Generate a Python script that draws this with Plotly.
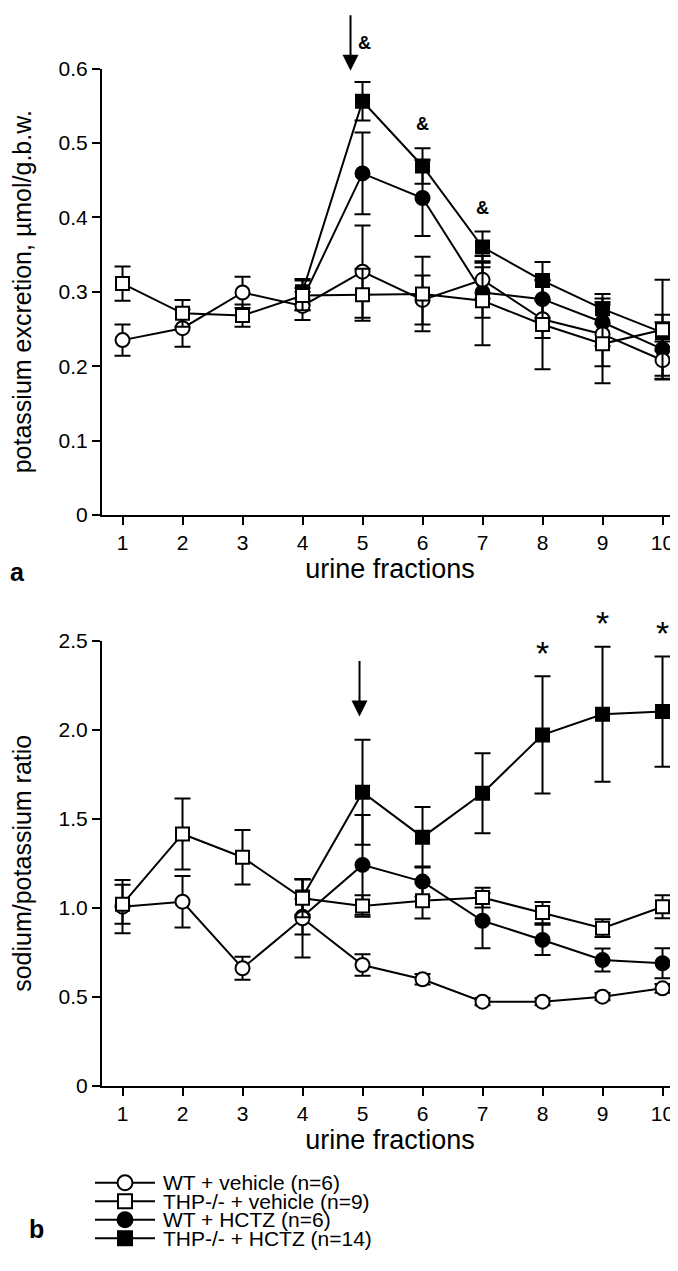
import plotly.graph_objects as go

fractions = [1, 2, 3, 4, 5, 6, 7, 8, 9, 10]
hctz_fractions = [4, 5, 6, 7, 8, 9, 10]

# Panel a: potassium excretion (umol/g.b.w.)
k_wt_veh = [0.235, 0.251, 0.299, 0.281, 0.327, 0.289, 0.316, 0.263, 0.243, 0.208]
k_wt_veh_sem = [0.021, 0.025, 0.021, 0.019, 0.062, 0.033, 0.025, 0.025, 0.043, 0.025]
k_thp_veh = [0.311, 0.271, 0.268, 0.295, 0.296, 0.297, 0.288, 0.256, 0.230, 0.249]
k_thp_veh_sem = [0.023, 0.018, 0.015, 0.020, 0.035, 0.050, 0.060, 0.060, 0.053, 0.067]
k_wt_hctz = [0.290, 0.459, 0.426, 0.299, 0.290, 0.259, 0.223]
k_wt_hctz_sem = [0.015, 0.055, 0.051, 0.034, 0.025, 0.032, 0.036]
k_thp_hctz = [0.300, 0.556, 0.469, 0.360, 0.315, 0.277, 0.245]
k_thp_hctz_sem = [0.017, 0.026, 0.024, 0.021, 0.025, 0.020, 0.024]

# Panel b: sodium/potassium ratio
r_wt_veh = [1.006, 1.034, 0.660, 0.941, 0.678, 0.598, 0.472, 0.472, 0.500, 0.547]
r_wt_veh_sem = [0.15, 0.145, 0.065, 0.22, 0.06, 0.03, 0.02, 0.02, 0.02, 0.025]
r_thp_veh = [1.020, 1.415, 1.284, 1.053, 1.010, 1.040, 1.057, 0.973, 0.885, 1.006]
r_thp_veh_sem = [0.11, 0.20, 0.153, 0.107, 0.06, 0.10, 0.055, 0.06, 0.05, 0.065]
r_wt_hctz = [0.95, 1.241, 1.147, 0.927, 0.819, 0.706, 0.688]
r_wt_hctz_sem = [0.10, 0.28, 0.085, 0.155, 0.085, 0.065, 0.085]
r_thp_hctz = [1.06, 1.650, 1.397, 1.644, 1.972, 2.088, 2.103]
r_thp_hctz_sem = [0.10, 0.295, 0.17, 0.225, 0.33, 0.38, 0.31]

group_names = ["WT + vehicle (n=6)", "THP-/- + vehicle (n=9)", "WT + HCTZ (n=6)", "THP-/- + HCTZ (n=14)"]

k_ticks = [0, 0.1, 0.2, 0.3, 0.4, 0.5, 0.6]
k_ticktext = ["0", "0.1", "0.2", "0.3", "0.4", "0.5", "0.6"]
r_ticks = [0, 0.5, 1.0, 1.5, 2.0, 2.5]
r_ticktext = ["0", "0.5", "1.0", "1.5", "2.0", "2.5"]

# significance marks: (fraction, value level)
amp_points = [(5.04, 0.634), (6, 0.525), (7, 0.413)]
star_points = [(8, 2.43), (9, 2.60), (10, 2.543)]
K_MAX, R_MAX = 0.6, 2.5

FONT = "Arial, Liberation Sans, sans-serif"
OFF = 8                      # default page body margin
FW, FH = 678 - OFF, 1271 - 2 * OFF


def fx(px):
    return (px - OFF) / FW


def fy(py):
    return 1 - (py - OFF) / FH


styles = [
    dict(symbol="circle", color="white", size=14),
    dict(symbol="square", color="white", size=13),
    dict(symbol="circle", color="black", size=14),
    dict(symbol="square", color="black", size=13),
]

fig = go.Figure()


def add(xs, ys, es, idx, xa, ya):
    st = styles[idx]
    fig.add_trace(go.Scatter(
        x=xs, y=ys, mode="lines+markers", name=group_names[idx],
        xaxis=xa, yaxis=ya, showlegend=False,
        line=dict(color="black", width=2),
        marker=dict(symbol=st["symbol"], size=st["size"], color=st["color"],
                    line=dict(color="black", width=2)),
        error_y=dict(type="data", array=es, visible=True, color="black", thickness=2, width=8),
        cliponaxis=False,
    ))


add(hctz_fractions, k_wt_hctz, k_wt_hctz_sem, 2, "x", "y")
add(hctz_fractions, k_thp_hctz, k_thp_hctz_sem, 3, "x", "y")
add(fractions, k_wt_veh, k_wt_veh_sem, 0, "x", "y")
add(fractions, k_thp_veh, k_thp_veh_sem, 1, "x", "y")

add(hctz_fractions, r_wt_hctz, r_wt_hctz_sem, 2, "x2", "y2")
add(hctz_fractions, r_thp_hctz, r_thp_hctz_sem, 3, "x2", "y2")
add(fractions, r_wt_veh, r_wt_veh_sem, 0, "x2", "y2")
add(fractions, r_thp_veh, r_thp_veh_sem, 1, "x2", "y2")

# legend (drawn on its own small axis, one row per group)
for i, name in enumerate(group_names):
    st = styles[i]
    fig.add_trace(go.Scatter(
        x=[0, 1], y=[i, i], mode="lines", xaxis="x3", yaxis="y3", showlegend=False,
        line=dict(color="black", width=2), hoverinfo="skip"))
    fig.add_trace(go.Scatter(
        x=[0.5], y=[i], mode="markers", xaxis="x3", yaxis="y3", showlegend=False,
        marker=dict(symbol=st["symbol"], size=st["size"] + 1, color=st["color"],
                    line=dict(color="black", width=2)), hoverinfo="skip"))
    fig.add_annotation(x=1, y=i, xref="x3", yref="y3", text=name, showarrow=False,
                       xanchor="left", yanchor="middle", xshift=6,
                       font=dict(family=FONT, size=21, color="black"))

xr = [0.658, 10.258]
axis_common = dict(showline=True, linecolor="black", linewidth=2, ticks="outside",
                   ticklen=8, tickwidth=2, tickcolor="black", showgrid=False,
                   zeroline=False, tickfont=dict(family=FONT, size=21, color="black"),
                   automargin=False)
hidden = dict(visible=False, showgrid=False, zeroline=False, fixedrange=True)

fig.update_layout(
    width=FW, height=FH,
    margin=dict(l=0, r=0, t=0, b=0),
    paper_bgcolor="white", plot_bgcolor="rgba(0,0,0,0)",
    font=dict(family=FONT, color="black"),
    showlegend=False,
    xaxis=dict(domain=[fx(102), 1.0], range=xr, anchor="y", tickvals=fractions,
               title=dict(text="urine fractions", font=dict(size=27), standoff=2), **axis_common),
    yaxis=dict(domain=[fy(515), fy(68.5)], range=[0, K_MAX], anchor="x", tickvals=k_ticks,
               ticktext=k_ticktext,
               title=dict(text="potassium excretion, µmol/g.b.w.", font=dict(size=25), standoff=20),
               **axis_common),
    xaxis2=dict(domain=[fx(102), 1.0], range=xr, anchor="y2", tickvals=fractions,
                title=dict(text="urine fractions", font=dict(size=27), standoff=2), **axis_common),
    yaxis2=dict(domain=[fy(1085.6), fy(641)], range=[0, R_MAX], anchor="x2", tickvals=r_ticks,
                ticktext=r_ticktext,
                title=dict(text="sodium/potassium ratio", font=dict(size=25), standoff=20),
                **axis_common),
    xaxis3=dict(domain=[fx(95), fx(155)], range=[0, 1], anchor="y3", **hidden),
    yaxis3=dict(domain=[fy(1256.9), fy(1164.2)], range=[4, -1], anchor="x3", **hidden),
)

# arrows marking treatment
fig.add_annotation(x=4.8, y=0.597, xref="x", yref="y", ax=0, ay=-57, text="",
                   showarrow=True, arrowhead=2, arrowsize=1.6, arrowwidth=2, arrowcolor="black")
fig.add_annotation(x=4.95, y=2.075, xref="x2", yref="y2", ax=0, ay=-57, text="",
                   showarrow=True, arrowhead=2, arrowsize=1.6, arrowwidth=2, arrowcolor="black")

for (px_, py_) in amp_points:
    fig.add_annotation(x=px_, y=py_ / K_MAX, xref="x", yref="y domain", text="<b>&</b>",
                       showarrow=False, xanchor="center", yanchor="middle",
                       font=dict(family=FONT, size=18, color="black"))
for (sx, sy) in star_points:
    fig.add_annotation(x=sx, y=sy / R_MAX, xref="x2", yref="y2 domain", text="*",
                       showarrow=False, xanchor="center", yanchor="middle",
                       font=dict(family=FONT, size=34, color="black"))

# panel letters
fig.add_annotation(x=fx(17), y=fy(572), xref="paper", yref="paper", text="<b>a</b>",
                   showarrow=False, xanchor="center", yanchor="middle",
                   font=dict(family=FONT, size=25, color="black"))
fig.add_annotation(x=fx(36), y=fy(1229), xref="paper", yref="paper", text="<b>b</b>",
                   showarrow=False, xanchor="center", yanchor="middle",
                   font=dict(family=FONT, size=25, color="black"))

fig.write_html("out.html")
